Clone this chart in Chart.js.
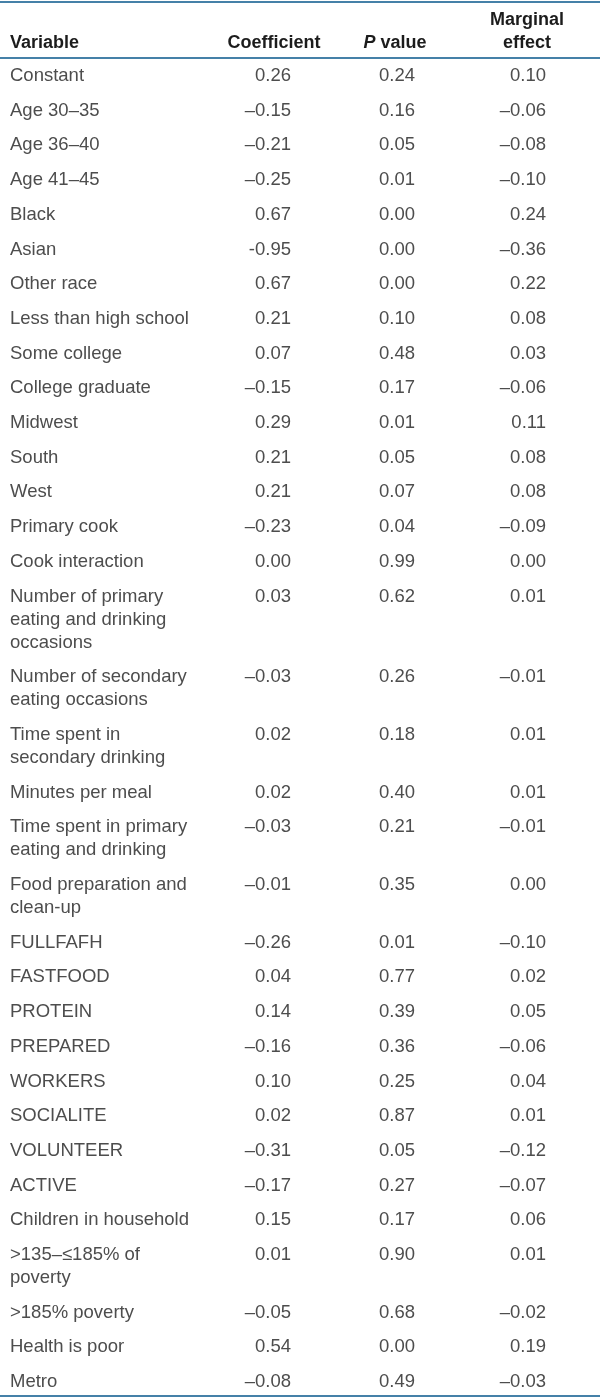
<!DOCTYPE html>
<html lang="en">
<head>
<meta charset="UTF-8">
<title>Regression results</title>
<script src="https://cdn.jsdelivr.net/npm/chart.js"></script>
<style>
    html, body { margin: 0; padding: 0; background: #fff; }
    #wrap { width: 600px; height: 1397px; }
</style>
</head>
<body>
<div id="wrap"><canvas id="tableChart" width="600" height="1397"></canvas></div>
<script>
// table content
const headers = ['Variable', 'Coefficient', 'P value', 'Marginal\neffect'];
const variables = [
    'Constant', 'Age 30–35', 'Age 36–40', 'Age 41–45', 'Black', 'Asian', 'Other race',
    'Less than high school', 'Some college', 'College graduate', 'Midwest', 'South', 'West',
    'Primary cook', 'Cook interaction', 'Number of primary\neating and drinking\noccasions',
    'Number of secondary\neating occasions', 'Time spent in\nsecondary drinking', 'Minutes per meal',
    'Time spent in primary\neating and drinking', 'Food preparation and\nclean-up',
    'FULLFAFH', 'FASTFOOD', 'PROTEIN', 'PREPARED', 'WORKERS', 'SOCIALITE', 'VOLUNTEER', 'ACTIVE',
    'Children in household', '>135–≤185% of\npoverty', '>185% poverty', 'Health is poor', 'Metro'
];
const coefficients = [
    '0.26', '–0.15', '–0.21', '–0.25', '0.67', '-0.95', '0.67', '0.21', '0.07', '–0.15', '0.29',
    '0.21', '0.21', '–0.23', '0.00', '0.03', '–0.03', '0.02', '0.02', '–0.03', '–0.01', '–0.26',
    '0.04', '0.14', '–0.16', '0.10', '0.02', '–0.31', '–0.17', '0.15', '0.01', '–0.05', '0.54', '–0.08'
];
const pValues = [
    '0.24', '0.16', '0.05', '0.01', '0.00', '0.00', '0.00', '0.10', '0.48', '0.17', '0.01',
    '0.05', '0.07', '0.04', '0.99', '0.62', '0.26', '0.18', '0.40', '0.21', '0.35', '0.01',
    '0.77', '0.39', '0.36', '0.25', '0.87', '0.05', '0.27', '0.17', '0.90', '0.68', '0.00', '0.49'
];
const marginalEffects = [
    '0.10', '–0.06', '–0.08', '–0.10', '0.24', '–0.36', '0.22', '0.08', '0.03', '–0.06', '0.11',
    '0.08', '0.08', '–0.09', '0.00', '0.01', '–0.01', '0.01', '0.01', '–0.01', '0.00', '–0.10',
    '0.02', '0.05', '–0.06', '0.04', '0.01', '–0.12', '–0.07', '0.06', '0.01', '–0.02', '0.19', '–0.03'
];

// layout, in the units of the 600 x 1397 axes
const ROW_H = 34.7, LINE_H = 23, BODY_TOP = 58.5;
const colX = [10, 291, 415, 546];
const colAlign = ['left', 'right', 'right', 'right'];
const headX = [10, 274, 395, 527];
const headAlign = ['left', 'center', 'center', 'center'];
const HEAD_BASE = 43;
const rules = [2, 58, 1396];
const FONT = '"Liberation Sans", Arial, Helvetica, sans-serif';

const rowY = [];
let rowTop = BODY_TOP;
variables.forEach(v => {
    rowY.push(rowTop + 17.5);
    rowTop += ROW_H + LINE_H * (v.split('\n').length - 1);
});

function column(values, c) {
    return {
        label: headers[c],
        data: values.map((v, i) => ({ x: colX[c], y: rowY[i] })),
        texts: values,
        align: colAlign[c],
        pointRadius: 0,
        pointHoverRadius: 0
    };
}

const tablePlugin = {
    id: 'tableText',
    beforeDatasetsDraw(chart) {
        const { ctx, scales: { x, y } } = chart;
        ctx.save();
        ctx.strokeStyle = '#4581a8';
        ctx.lineWidth = 2;
        rules.forEach(r => {
            const py = y.getPixelForValue(r);
            ctx.beginPath();
            ctx.moveTo(x.getPixelForValue(0), py);
            ctx.lineTo(x.getPixelForValue(600), py);
            ctx.stroke();
        });
        // header
        ctx.fillStyle = '#1c1c1c';
        ctx.textBaseline = 'middle';
        headers.forEach((h, c) => {
            const lines = h.split('\n');
            lines.forEach((ln, k) => {
                const py = y.getPixelForValue(HEAD_BASE - (lines.length - 1 - k) * LINE_H);
                const px = x.getPixelForValue(headX[c]);
                if (ln === 'P value') {
                    ctx.font = 'italic bold 18px ' + FONT;
                    const wP = ctx.measureText('P').width;
                    ctx.font = 'bold 18px ' + FONT;
                    const wRest = ctx.measureText(' value').width;
                    const start = px - (wP + wRest) / 2;
                    ctx.textAlign = 'left';
                    ctx.font = 'italic bold 18px ' + FONT;
                    ctx.fillText('P', start, py);
                    ctx.font = 'bold 18px ' + FONT;
                    ctx.fillText(' value', start + wP, py);
                } else {
                    ctx.font = 'bold 18px ' + FONT;
                    ctx.textAlign = headAlign[c];
                    ctx.fillText(ln, px, py);
                }
            });
        });
        ctx.restore();
    },
    afterDatasetsDraw(chart) {
        const { ctx, scales: { y } } = chart;
        ctx.save();
        ctx.font = '18.5px ' + FONT;
        ctx.fillStyle = '#4d4d4d';
        ctx.textBaseline = 'middle';
        chart.data.datasets.forEach((ds, di) => {
            const meta = chart.getDatasetMeta(di);
            ctx.textAlign = ds.align;
            meta.data.forEach((pt, i) => {
                String(ds.texts[i]).split('\n').forEach((ln, k) => {
                    const py = y.getPixelForValue(ds.data[i].y + k * LINE_H);
                    ctx.fillText(ln, pt.x, py);
                });
            });
        });
        ctx.restore();
    }
};

new Chart(document.getElementById('tableChart'), {
    type: 'scatter',
    data: {
        datasets: [
            column(variables, 0),
            column(coefficients, 1),
            column(pValues, 2),
            column(marginalEffects, 3)
        ]
    },
    options: {
        responsive: false,
        animation: false,
        events: [],
        layout: { padding: 0 },
        plugins: {
            legend: { display: false },
            tooltip: { enabled: false }
        },
        scales: {
            x: { type: 'linear', min: 0, max: 600, display: false },
            y: { type: 'linear', min: 0, max: 1397, reverse: true, display: false }
        }
    },
    plugins: [tablePlugin]
});
</script>
</body>
</html>
